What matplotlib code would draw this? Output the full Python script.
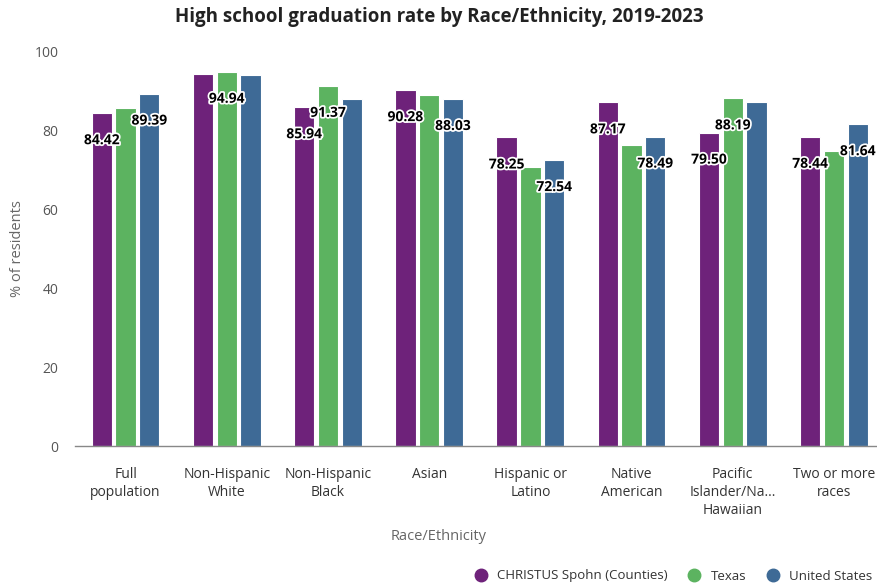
import numpy as np
import matplotlib
matplotlib.use('Agg')
import matplotlib.pyplot as plt
import matplotlib.patheffects as pe
from matplotlib.lines import Line2D

plt.rcParams['font.family'] = ['Open Sans', 'DejaVu Sans']

# ------------------------------------------
# DATA
# ------------------------------------------
categories = [
    "Full\npopulation", "Non-Hispanic\nWhite", "Non-Hispanic\nBlack", "Asian",
    "Hispanic or\nLatino", "Native\nAmerican", "Pacific\nIslander/Na...\nHawaiian",
    "Two or more\nraces"
]
series_names = ["CHRISTUS Spohn (Counties)", "Texas", "United States"]

christus = [84.42, 94.30, 85.94, 90.28, 78.25, 87.17, 79.50, 78.44]
texas = [85.70, 94.94, 91.37, 88.90, 70.70, 76.40, 88.19, 74.90]
united_states = [89.39, 94.10, 88.00, 88.03, 72.54, 78.49, 87.20, 81.64]

# which data labels are shown (the rest were hidden by overlap)
christus_labels = [True, False, True, True, True, True, True, True]
texas_labels = [False, True, True, False, False, False, True, False]
us_labels = [True, False, False, True, True, True, False, True]

colors = ['#6E227A', '#5CB360', '#3E6A96']

# ------------------------------------------
# PLOT
# ------------------------------------------
fig = plt.figure(figsize=(8.78, 5.86), dpi=100)
ax = fig.add_axes([75 / 878, 1 - 446 / 586, 1 - 75 / 878, (446 - 51.7) / 586])

x = np.arange(len(categories))
bar_w = 0.2
step = 0.235
all_series = [christus, texas, united_states]
all_labels = [christus_labels, texas_labels, us_labels]

for i, (vals, flags, name, color) in enumerate(zip(all_series, all_labels, series_names, colors)):
    pos = x + (i - 1) * step
    ax.bar(pos, vals, width=bar_w, color=color, edgecolor='white', linewidth=0.8, label=name)
    for p, v, show in zip(pos, vals, flags):
        if show:
            ax.annotate(f'{v:.2f}', xy=(p, v), xytext=(0, -19.5), textcoords='offset points',
                        ha='center', va='center', fontsize=10, fontweight='bold', color='black',
                        path_effects=[pe.withStroke(linewidth=2.5, foreground='white')])

ax.set_ylim(0, 100)
ax.set_xlim(-0.5, 7.435)
ax.set_yticks(range(0, 101, 20))
ax.set_xticks(x)
ax.set_xticklabels(categories, fontsize=10, color='#333333', linespacing=1.3, va='top')
ax.tick_params(axis='x', length=0, pad=15)
ax.tick_params(axis='y', length=0, pad=12, labelsize=10, labelcolor='#555555')

for side in ['top', 'right', 'left']:
    ax.spines[side].set_visible(False)
ax.spines['bottom'].set_color('#888888')
ax.spines['bottom'].set_linewidth(1)

ax.set_ylabel('% of residents', fontsize=10.5, color='#666666', labelpad=7)
fig.text(0.5, 1 - 536 / 586, 'Race/Ethnicity', ha='center', va='center', fontsize=10.5, color='#666666')
fig.text(0.5, 1 - 17 / 586, 'High school graduation rate by Race/Ethnicity, 2019-2023',
         ha='center', va='center', fontsize=13.5, fontweight='bold', color='#222222')

handles = [Line2D([0], [0], marker='o', linestyle='', markersize=9, color=c) for c in colors]
fig.legend(handles, series_names, loc='center right', bbox_to_anchor=(1.007, 1 - 576 / 586),
           ncol=3, frameon=False, fontsize=9.5, handletextpad=0.25, columnspacing=1.0,
           labelcolor='#333333')

fig.savefig('out.png', dpi=100)
